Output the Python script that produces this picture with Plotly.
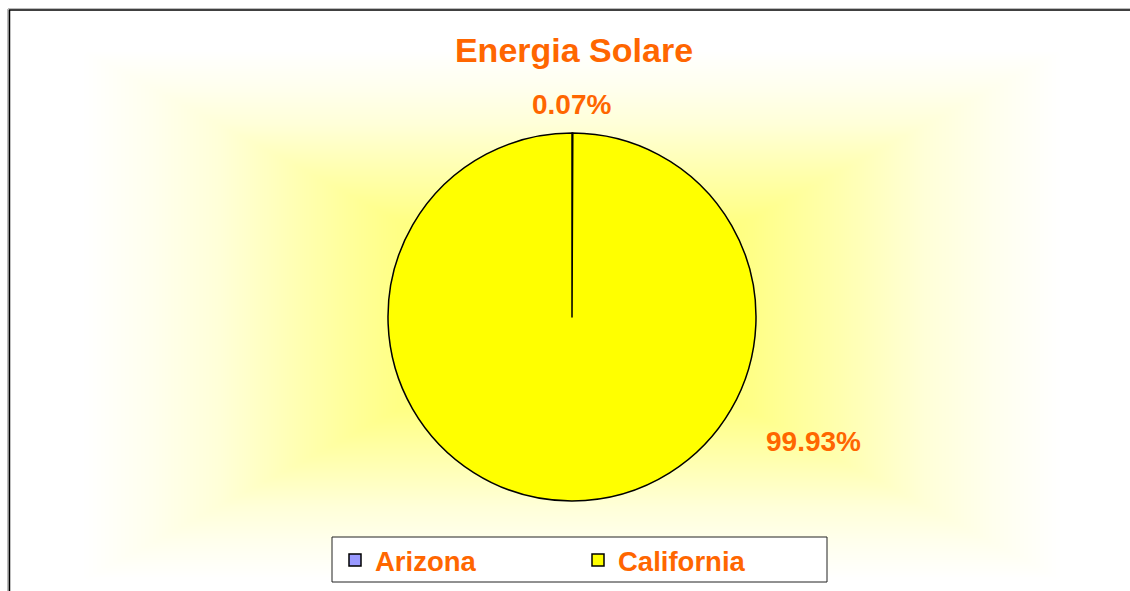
import numpy as np
import plotly.graph_objects as go

# ---- data ----
states = ["Arizona", "California"]
shares = [0.07, 99.93]
slice_colors = ["#9999FF", "#FFFF00"]
title_text = "Energia Solare"

W, H = 1130, 591
ORANGE = "#FF6600"
FONT = "Liberation Sans, Arial, sans-serif"

# ---- background glow (rectangular "from centre" gradient, styling only) ----
gx = np.linspace(0, W, 227)
gy = np.linspace(0, H, 119)
X, Y = np.meshgrid(gx, gy)
cx, cy, hx, hy = 572, 315, 490, 265
t = np.clip(np.maximum(np.abs(X - cx) / hx, np.abs(Y - cy) / hy), 0, 1)

glow = go.Heatmap(
    x=gx, y=gy, z=t, zmin=0, zmax=1, zsmooth="best", showscale=False,
    hoverinfo="skip", showlegend=False,
    colorscale=[[0, "#FFFF40"], [0.37, "#FFFF88"], [0.55, "#FFFFB0"],
                [0.72, "#FFFFD8"], [0.86, "#FFFFEE"], [1, "#FFFFFF"]],
    xaxis="x", yaxis="y",
)

pie = go.Pie(
    labels=states, values=shares, sort=False, direction="clockwise", rotation=0,
    marker=dict(colors=slice_colors, line=dict(color="black", width=1.5)),
    textinfo="none", hoverinfo="label+percent",
    domain=dict(x=[(572 - 184) / W, (572 + 184) / W], y=[1 - 501 / H, 1 - 133 / H]),
)

fig = go.Figure([glow, pie])

total = sum(shares)
pct = [f"{v / total * 100:.2f}%" for v in shares]
label_pos = [(571, 104), (813, 441)]
for txt, (px, py) in zip(pct, label_pos):
    fig.add_annotation(x=px / W, y=1 - py / H, xref="paper", yref="paper",
                       xanchor="center", yanchor="middle",
                       text=txt, showarrow=False,
                       font=dict(family=FONT, size=28, color=ORANGE, weight="bold"))

shapes = [
    # legend frame
    dict(type="rect", xref="paper", yref="paper",
         x0=332 / W, x1=827 / W, y0=1 - 582 / H, y1=1 - 537 / H,
         fillcolor="white", line=dict(color="#222222", width=1), layer="above"),
    # chart-area border (top & left) with soft shadow
    dict(type="line", xref="paper", yref="paper", x0=8 / W, x1=1, y0=1 - 8.5 / H, y1=1 - 8.5 / H,
         line=dict(color="#BBBBBB", width=1), layer="above"),
    dict(type="line", xref="paper", yref="paper", x0=9 / W, x1=1, y0=1 - 10 / H, y1=1 - 10 / H,
         line=dict(color="black", width=1.5), layer="above"),
    dict(type="line", xref="paper", yref="paper", x0=8 / W, x1=8 / W, y0=0, y1=1 - 9 / H,
         line=dict(color="#777777", width=1), layer="above"),
    dict(type="line", xref="paper", yref="paper", x0=9.5 / W, x1=9.5 / W, y0=0, y1=1 - 10 / H,
         line=dict(color="black", width=1.5), layer="above"),
]

fig.update_layout(
    width=W, height=H,
    margin=dict(l=0, r=0, t=0, b=0),
    paper_bgcolor="white", plot_bgcolor="white",
    title=dict(text=title_text, x=574 / W, xanchor="center",
               y=1 - 50 / H, yanchor="middle",
               font=dict(family=FONT, size=34, color=ORANGE, weight="bold")),
    xaxis=dict(range=[0, W], visible=False, domain=[0, 1], fixedrange=True),
    yaxis=dict(range=[H, 0], visible=False, domain=[0, 1], fixedrange=True),
    showlegend=True,
    legend=dict(orientation="h", x=335 / W, xanchor="left", y=1 - 560 / H, yanchor="middle",
                bgcolor="rgba(0,0,0,0)", borderwidth=0,
                entrywidth=198, entrywidthmode="pixels",
                font=dict(family=FONT, size=27.5, color=ORANGE, weight="bold"), itemclick=False),
    shapes=shapes,
)

fig.write_html("out.html", config={"displayModeBar": False},
               post_script="document.body.style.margin='0';")
